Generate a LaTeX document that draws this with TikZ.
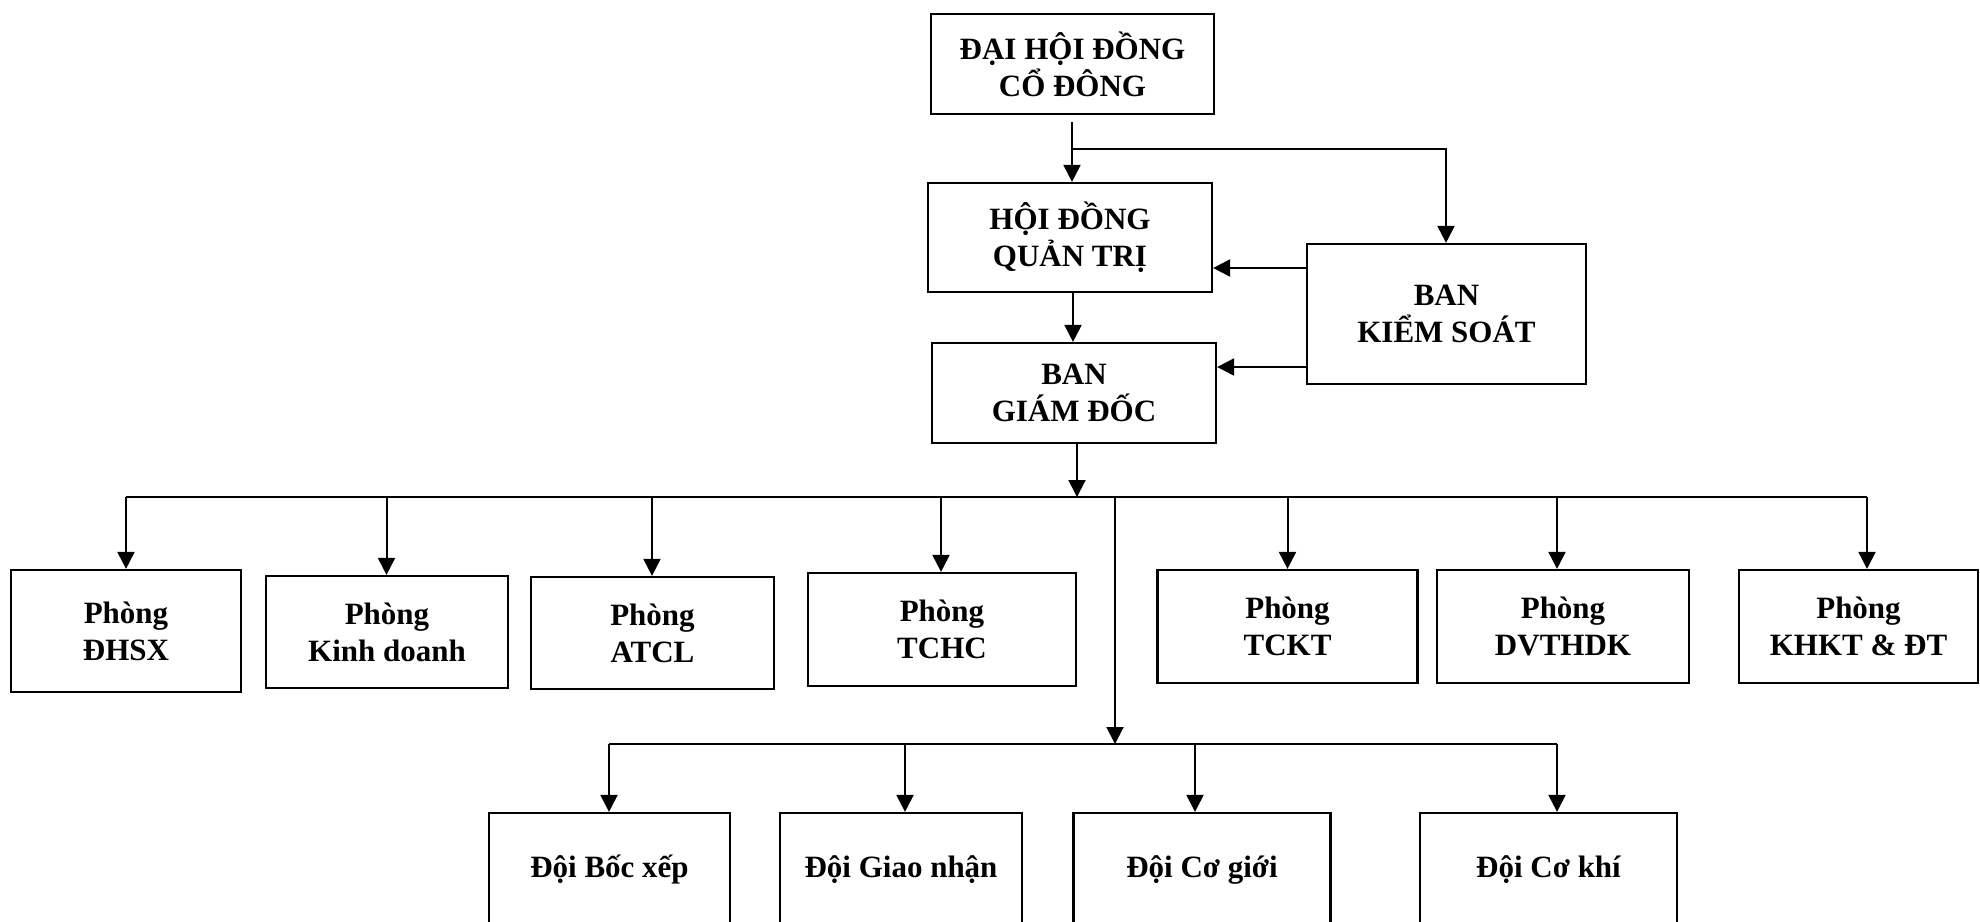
\documentclass[tikz,border=0pt]{standalone}
\usepackage{fontspec}
\setmainfont{Liberation Serif}
\usetikzlibrary{arrows.meta}
\begin{document}
\begin{tikzpicture}[x=1pt,y=-1pt,
  box/.style={draw, line width=2.2pt, align=center, inner sep=0pt, font=\fontsize{31}{37}\selectfont\bfseries},
  conn/.style={line width=2pt},
  arr/.style={conn, -{Triangle[length=17pt,width=17pt]}}]
\useasboundingbox (0,0) rectangle (1980,921);
\clip (0,0) rectangle (1980,921);
% top boxes
\node[box, minimum width=283pt, minimum height=100pt] (dh) at (1072.5,64) {ĐẠI HỘI ĐỒNG\\CỔ ĐÔNG};
\node[box, minimum width=284pt, minimum height=109pt] (hd) at (1070,237.5) {HỘI ĐỒNG\\QUẢN TRỊ};
\node[box, minimum width=279pt, minimum height=140pt] (ks) at (1446.5,314) {BAN\\KIỂM SOÁT};
\node[box, minimum width=284pt, minimum height=100pt] (bgd) at (1074,393) {BAN\\GIÁM ĐỐC};
% departments
\node[box, minimum width=230pt, minimum height=122pt] (p1) at (126,631) {Phòng\\ĐHSX};
\node[box, minimum width=242pt, minimum height=112pt] (p2) at (387,632) {Phòng\\Kinh doanh};
\node[box, minimum width=243pt, minimum height=112pt] (p3) at (652.5,633) {Phòng\\ATCL};
\node[box, minimum width=268pt, minimum height=113pt] (p4) at (942,629.5) {Phòng\\TCHC};
\node[box, minimum width=260pt, minimum height=113pt] (p5) at (1287.5,626.5) {Phòng\\TCKT};
\node[box, minimum width=252pt, minimum height=113pt] (p6) at (1563,626.5) {Phòng\\DVTHDK};
\node[box, minimum width=239pt, minimum height=113pt] (p7) at (1858.5,626.5) {Phòng\\KHKT \& ĐT};
% teams
\node[box, minimum width=241pt, minimum height=114pt] (q1) at (609.5,870) {Đội Bốc xếp};
\node[box, minimum width=242pt, minimum height=114pt] (q2) at (901,870) {Đội Giao nhận};
\node[box, minimum width=257pt, minimum height=114pt] (q3) at (1202,870) {Đội Cơ giới};
\node[box, minimum width=257pt, minimum height=114pt] (q4) at (1548.5,870) {Đội Cơ khí};
% top connectors
\coordinate (a0) at (1072,122);
\coordinate (a1) at (1072,149);
\coordinate (a2) at (1446,149);
\draw[arr] (a0) -- (a0 |- hd.north);
\draw[arr, line join=miter] (a1) -- (a2) -- (a2 |- ks.north);
\coordinate (y1) at (0,268);
\coordinate (y2) at (0,367);
\draw[arr] (ks.west |- y1) -- (hd.east |- y1);
\draw[arr] (ks.west |- y2) -- (bgd.east |- y2);
\coordinate (c1) at (1073,0);
\draw[arr] (c1 |- hd.south) -- (c1 |- bgd.north);
% main bus
\coordinate (bus) at (0,497);
\coordinate (c2) at (1077,0);
\draw[arr] (c2 |- bgd.south) -- (c2 |- bus);
\coordinate (d1) at (126,497);
\coordinate (d2) at (386.5,497);
\coordinate (d3) at (652,497);
\coordinate (d4) at (941,497);
\coordinate (d5) at (1287.5,497);
\coordinate (d6) at (1557,497);
\coordinate (d7) at (1867,497);
\draw[conn] (d1) -- (d7);
\draw[arr] (d1) -- (d1 |- p1.north);
\draw[arr] (d2) -- (d2 |- p2.north);
\draw[arr] (d3) -- (d3 |- p3.north);
\draw[arr] (d4) -- (d4 |- p4.north);
\draw[arr] (d5) -- (d5 |- p5.north);
\draw[arr] (d6) -- (d6 |- p6.north);
\draw[arr] (d7) -- (d7 |- p7.north);
% lower bus
\coordinate (v0) at (1115,497);
\coordinate (v1) at (1115,744);
\draw[arr] (v0) -- (v1);
\coordinate (e1) at (609,744);
\coordinate (e2) at (905,744);
\coordinate (e3) at (1195,744);
\coordinate (e4) at (1557,744);
\draw[conn] (e1) -- (e4);
\draw[arr] (e1) -- (e1 |- q1.north);
\draw[arr] (e2) -- (e2 |- q2.north);
\draw[arr] (e3) -- (e3 |- q3.north);
\draw[arr] (e4) -- (e4 |- q4.north);
\end{tikzpicture}
\end{document}
